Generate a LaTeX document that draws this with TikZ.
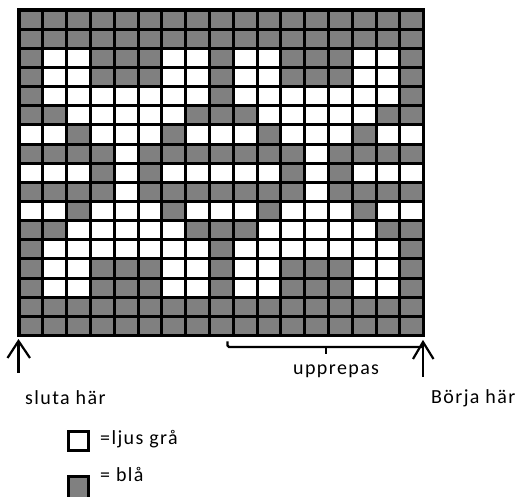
\documentclass[tikz,border=0pt]{standalone}
\usepackage{fontspec}
\setmainfont{Carlito}[LetterSpace=7]
\usetikzlibrary{arrows.meta}
\definecolor{cellgray}{HTML}{808080}
\begin{document}
\begin{tikzpicture}[x=1pt,y=-1pt,
  lbl/.style={inner sep=0pt,anchor=base west,font=\fontsize{20}{24}\selectfont},
  gridline/.style={line width=3pt},
  arrowline/.style={line width=2.2pt},
  bracketline/.style={line width=2.2pt,rounded corners=1.5pt},
  legendbox/.style={draw=black,line width=3pt}]
\useasboundingbox (0,0) rectangle (523,497);
\pgfmathsetmacro{\dx}{23.8}
\pgfmathsetmacro{\dy}{19.15}
% background cells
\fill[cellgray] (19,10) rectangle (423.6,335.55);
\foreach \r/\cl in {3/{2,3,7,8,10,11,15,16},4/{2,3,7,8,10,11,15,16},
  5/{2,3,4,5,6,7,8,10,11,12,13,14,15,16},6/{3,4,5,6,7,11,12,13,14,15},
  7/{1,2,4,5,6,8,9,10,12,13,14,16,17},8/{5,13},
  9/{1,2,3,5,7,8,9,10,11,13,15,16,17},10/{5,13},
  11/{1,2,4,5,6,8,9,10,12,13,14,16,17},12/{3,4,5,6,7,11,12,13,14,15},
  13/{2,3,4,5,6,7,8,10,11,12,13,14,15,16},14/{2,3,7,8,10,11,15,16},
  15/{2,3,7,8,10,11,15,16}}{
  \foreach \c in \cl {
    \fill[white] ({19+(\c-1)*\dx},{10+(\r-1)*\dy}) rectangle ++(\dx,\dy);
  }
}
% grid lines
\foreach \i in {1,...,16} {
  \draw[gridline] ({19+\i*\dx},10) -- ({19+\i*\dx},335.55);
  \draw[gridline] (19,{10+\i*\dy}) -- (423.6,{10+\i*\dy});
}
\draw[line width=3.5pt] (19,10) rectangle (423.6,335.55);
% arrows
\coordinate (ltip) at (18.5,341);
\coordinate (lbot) at (18.5,373);
\coordinate (rtip) at (423,342);
\coordinate (rbot) at (423,377);
\draw[arrowline] (lbot) -- (ltip);
\draw[arrowline,line join=miter] (ltip) ++(-11,17) -- (ltip) -- ++(11.5,17);
\draw[arrowline] (rbot) -- (rtip);
\draw[arrowline,line join=miter] (rtip) ++(-10,17) -- (rtip) -- ++(10.5,17);
% bracket
\coordinate (bl) at (227.5,341.5);
\coordinate (br) at (423,347);
\coordinate (bm) at (326,347);
\coordinate (bmt) at (326,354);
\draw[bracketline] (bl) |- (br);
\draw[line width=2.6pt] (bm) -- (bmt);
% labels
\node[lbl] (upp) at (293,375) {upprepas};
\node[lbl] (sluta) at (25,405) {sluta här};
\node[lbl] (borja) at (431,404) {Börja här};
% legend
\node[legendbox,fill=white,minimum width=20.5pt,minimum height=18.7pt,inner sep=0pt] (lw) at (78.4,440.9) {};
\node[legendbox,fill=cellgray,minimum width=20.5pt,minimum height=22.5pt,inner sep=0pt] (lg) at (78.4,488) {};
\node[lbl] (tw) at (100,445) {=ljus grå};
\node[lbl] (tg) at (100,482) {= blå};
\end{tikzpicture}
\end{document}
